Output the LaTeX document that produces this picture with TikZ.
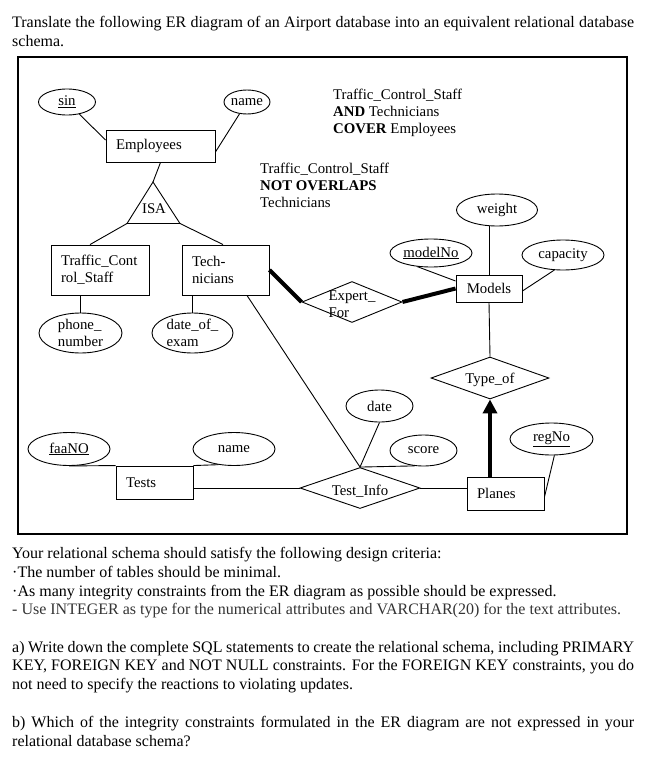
\documentclass[tikz,border=0pt]{standalone}
\usepackage{fontspec}
\setmainfont{Liberation Serif}
\usetikzlibrary{shapes.geometric,arrows.meta}

\tikzstyle{entity}=[rectangle,draw,line width=0.9pt,inner xsep=10pt,inner ysep=0pt,align=left]
\tikzstyle{attrib}=[ellipse,draw,line width=0.9pt,inner sep=0pt,align=left]
\tikzstyle{relat}=[diamond,draw,line width=0.9pt,inner sep=0pt]
\tikzstyle{texto}=[inner sep=0pt,align=left,font=\fontsize{14.8}{17}\selectfont]
\tikzstyle{bodytext}=[inner sep=0pt,anchor=north west,text width=622pt,align=justify,font=\fontsize{16}{18.6}\selectfont]
\tikzstyle{conn}=[line width=0.9pt]
\tikzstyle{heavy}=[line width=4pt]

\begin{document}
\begin{tikzpicture}[x=1pt,y=-1pt,font=\fontsize{14.8}{17}\selectfont]
  \useasboundingbox (0,0) rectangle (654,760);

  \node [bodytext] (task) at (12,16) {Translate the following ER diagram of an Airport database into an equivalent relational database\linebreak schema.};
  \draw [line width=1.4pt] (18,57) rectangle (627,534);

  \node [attrib,minimum width=57pt,minimum height=26pt] (sin) at (67,102) {\underline{sin}};
  \node [attrib,minimum width=46pt,minimum height=24pt] (ename) at (247,102) {name};
  \node [entity,text width=89pt,minimum height=32pt] (emp) at (160.5,146) {Employees};

  \coordinate (isatop) at (153,182);
  \coordinate (isal) at (127,223.5);
  \coordinate (isar) at (180,223.5);
  \draw [conn] (isatop) -- (isal) -- (isar) -- cycle;
  \node (isa) at (154,209) {ISA};

  \node [texto,anchor=west] (cover) at (333,113) {Traffic\_Control\_Staff\\\textbf{AND} Technicians\\\textbf{COVER} Employees};
  \node [texto,anchor=west] (overlap) at (260,185.5) {Traffic\_Control\_Staff\\\textbf{NOT OVERLAPS}\\Technicians};

  \node [entity,text width=78pt,minimum height=50pt] (tcs) at (100,270) {Traffic\_Cont\\rol\_Staff};
  \node [entity,text width=67pt,minimum height=50pt] (tech) at (225.5,270) {Tech-\\nicians};
  \node [attrib,minimum width=83pt,minimum height=40pt] (phone) at (80.5,333) {phone\_\\number};
  \node [attrib,minimum width=81pt,minimum height=40pt] (exam) at (192.5,333) {date\_of\_\\exam};

  \node [relat,minimum width=100pt,minimum height=41pt,label={[texto,yshift=-2pt]center:{Expert\_\\For}}] (expert) at (352,302) {};
  \node [entity,text width=46pt,align=center,minimum height=27pt] (models) at (489,288.5) {Models};
  \node [attrib,minimum width=82pt,minimum height=28pt] (modelno) at (431,253) {\underline{modelNo}};
  \node [attrib,minimum width=81pt,minimum height=32pt] (weight) at (497,210) {weight};
  \node [attrib,minimum width=82pt,minimum height=30pt] (capacity) at (563,255) {capacity};
  \node [relat,minimum width=118pt,minimum height=42pt,label={[texto,yshift=-2pt]center:Type\_of}] (typeof) at (490,378) {};

  \node [entity,text width=57pt,minimum height=33pt] (planes) at (505.5,493.5) {Planes};
  \node [attrib,minimum width=83pt,minimum height=32pt] (regno) at (551.5,439) {\underline{regNo}};
  \node [relat,minimum width=120pt,minimum height=41pt,label={[texto,yshift=-3pt]center:Test\_Info}] (testinfo) at (360,488) {};
  \node [attrib,minimum width=67pt,minimum height=32pt] (date) at (379.5,406) {date};
  \node [attrib,minimum width=67pt,minimum height=31pt] (score) at (423.5,450.5) {score};
  \node [entity,text width=57pt,minimum height=33pt] (tests) at (154.5,482.5) {Tests};
  \node [attrib,minimum width=82pt,minimum height=33pt] (faano) at (69,449) {\underline{faaNO}};
  \node [attrib,minimum width=82pt,minimum height=33pt] (tname) at (234,449) {name};

  \draw [conn] (sin) -- ([yshift=6pt]emp.west);
  \draw [conn] (ename) -- ([yshift=-6pt]emp.east);
  \draw [conn] (emp.south) -- (isatop);
  \draw [conn] (isal) -- ([xshift=-10pt]tcs.north);
  \draw [conn] (isar) -- ([xshift=-2.5pt]tech.north);
  \draw [conn] (phone.north |- tcs.south) -- (phone.north);
  \draw [conn] (exam.north |- tech.south) -- (exam.north);
  \draw [heavy] (tech.east) -- (expert.west);
  \draw [heavy] (expert.east) -- (models.west);
  \draw [conn] ([xshift=21.5pt]tech.south) -- (testinfo.north);
  \draw [conn] (modelno.225) -- ([yshift=7.5pt]models.west);
  \draw [conn] (weight.south -| models.north) -- (models.north);
  \draw [conn] (capacity.240) -- ([yshift=-2.5pt]models.east);
  \draw [conn] (models.south) -- (typeof.north);
  \draw [heavy,-{Triangle[length=14pt,width=14pt]}] (typeof.south |- planes.north) -- (typeof.south);
  \draw [conn] (date.south) -- (testinfo.north);
  \draw [conn] (score.240) -- (testinfo.north);
  \draw [conn] (tests.east |- testinfo.west) -- (testinfo.west);
  \draw [conn] (faano.south) -- (tests.north west);
  \draw [conn] (tests.north east) -- (tname.225);
  \draw [conn] (testinfo.east) -- (testinfo.east -| planes.west);
  \draw [conn] (regno.280) -- ([yshift=-3.5pt]planes.east);

  \node [bodytext] (criteria) at (12,547.5) {Your relational schema should satisfy the following design criteria:\\·The number of tables should be minimal.\\·As many integrity constraints from the ER diagram as possible should be expressed.\\{\color{black!80}- Use INTEGER as type for the numerical attributes and VARCHAR(20) for the text attributes.}};
  \node [bodytext] (parta) at (12,641) {a) Write down the complete SQL statements to create the relational schema, including PRIMARY\linebreak KEY, FOREIGN KEY and NOT NULL constraints. For the FOREIGN KEY constraints, you do\linebreak not need to specify the reactions to violating updates.};
  \node [bodytext] (partb) at (12,716) {b) Which of the integrity constraints formulated in the ER diagram are not expressed in your\linebreak relational database schema?};
\end{tikzpicture}
\end{document}
